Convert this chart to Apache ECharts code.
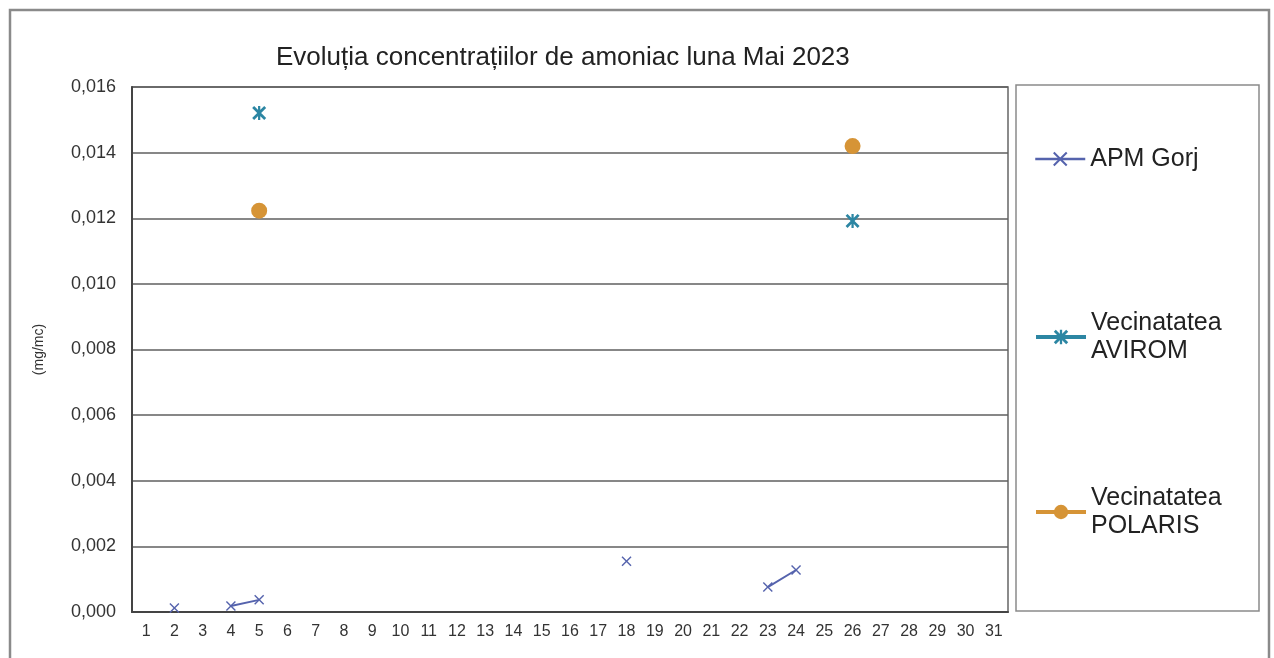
<html>
<head>
    <meta charset="utf-8">
    <title>ECharts</title>
    <script src="https://cdn.jsdelivr.net/npm/echarts@6/dist/echarts.min.js"></script>
</head>
<body style="margin:0;background:#fff;">
    <div id="main" style="width: 1274px;height:658px;"></div>
    <script type="text/javascript">
        // zilele lunii
        var zile = [];
        for (var d = 1; d <= 31; d++) zile.push(String(d));

        // valori (mg/mc), null = fara masuratoare
        var apmGorj = [null, 0.00012, null, 0.00018, 0.00037, null, null, null, null, null,
                       null, null, null, null, null, null, null, 0.00155, null, null,
                       null, null, 0.00076, 0.00128, null, null, null, null, null, null, null];
        var avirom = [null, null, null, null, 0.01521, null, null, null, null, null,
                      null, null, null, null, null, null, null, null, null, null,
                      null, null, null, null, null, 0.01192, null, null, null, null, null];
        var polaris = [null, null, null, null, 0.01223, null, null, null, null, null,
                       null, null, null, null, null, null, null, null, null, null,
                       null, null, null, null, null, 0.0142, null, null, null, null, null];

        var numeSerii = ['APM Gorj', 'Vecinatatea\nAVIROM', 'Vecinatatea\nPOLARIS'];

        var simbolX = 'path://M0,1 L1,0 L5,4 L9,0 L10,1 L6,5 L10,9 L9,10 L5,6 L1,10 L0,9 L4,5 Z';
        var simbolStea = 'path://M0,1.4 L1.4,0 L5,3.6 L8.6,0 L10,1.4 L6.4,5 L10,8.6 L8.6,10 L5,6.4 L1.4,10 L0,8.6 L3.6,5 Z M4.2,0 L5.8,0 L5.8,10 L4.2,10 Z';

        var myChart = echarts.init(document.getElementById('main'));

        var font = '"Liberation Sans", Arial, sans-serif';
        var legendText = { fontFamily: font, fontSize: 25, color: '#222', lineHeight: 28 };
        var legendText2 = { fontFamily: font, fontSize: 25, color: '#222', lineHeight: 28, padding: [28, 0, 0, 0] };

        var option = {
            animation: false,
            title: {
                text: 'Evoluția concentrațiilor de amoniac luna Mai 2023',
                left: 271,
                top: 40,
                textStyle: { fontFamily: font, fontSize: 26, fontWeight: 'normal', color: '#222' }
            },
            legend: [
                { data: [numeSerii[0]], left: 1034, top: 145, padding: 0, itemWidth: 50, itemHeight: 18, textStyle: legendText, lineStyle: { width: 2.5 } },
                { data: [numeSerii[1]], left: 1034, top: 295, padding: 0, itemWidth: 50, itemHeight: 18, textStyle: legendText2, lineStyle: { width: 4 } },
                { data: [numeSerii[2]], left: 1034, top: 470, padding: 0, itemWidth: 50, itemHeight: 18, textStyle: legendText2, lineStyle: { width: 4 } }
            ],
            graphic: [
                { type: 'rect', shape: { x: 10, y: 10, width: 1259, height: 660 }, style: { fill: 'none', stroke: '#8a8a8a', lineWidth: 2.5 }, silent: true },
                { type: 'rect', shape: { x: 1016, y: 85, width: 243, height: 526 }, style: { fill: 'none', stroke: '#8a8a8a', lineWidth: 1.5 }, silent: true }
            ],
            grid: {
                left: 132,
                right: 266,
                top: 87,
                bottom: 46,
                show: true,
                borderColor: '#666',
                borderWidth: 1.5
            },
            xAxis: {
                type: 'category',
                data: zile,
                boundaryGap: true,
                axisLine: { lineStyle: { color: '#444', width: 2 } },
                axisTick: { show: false },
                axisLabel: { fontFamily: font, fontSize: 16, color: '#333', margin: 12, interval: 0 },
                splitLine: { show: false }
            },
            yAxis: {
                type: 'value',
                min: 0,
                max: 0.016,
                interval: 0.002,
                name: '(mg/mc)',
                nameLocation: 'middle',
                nameRotate: 90,
                nameGap: 86,
                nameTextStyle: { fontFamily: font, fontSize: 14, color: '#333' },
                axisLine: { show: true, lineStyle: { color: '#444', width: 2 } },
                axisTick: { show: false },
                axisLabel: {
                    fontFamily: font, fontSize: 18, color: '#333', margin: 16,
                    formatter: function (v) { return v.toFixed(3).replace('.', ','); }
                },
                splitLine: { lineStyle: { color: '#5f5f5f', width: 1.5 } }
            },
            series: [
                {
                    name: numeSerii[0],
                    type: 'line',
                    data: apmGorj,
                    connectNulls: false,
                    symbol: simbolX,
                    symbolSize: 10,
                    showAllSymbol: true,
                    color: '#5563ad',
                    lineStyle: { width: 2, color: '#5563ad' },
                    itemStyle: { color: '#5563ad' }
                },
                {
                    name: numeSerii[1],
                    type: 'line',
                    data: avirom,
                    connectNulls: false,
                    symbol: simbolStea,
                    symbolSize: 14,
                    color: '#2c86a3',
                    lineStyle: { width: 3.5, color: '#2c86a3' },
                    itemStyle: { color: '#2c86a3' }
                },
                {
                    name: numeSerii[2],
                    type: 'line',
                    data: polaris,
                    connectNulls: false,
                    symbol: 'circle',
                    symbolSize: 16,
                    color: '#d69436',
                    lineStyle: { width: 3.5, color: '#d69436' },
                    itemStyle: { color: '#d69436' }
                }
            ]
        };

        myChart.setOption(option);
    </script>
</body>
</html>
